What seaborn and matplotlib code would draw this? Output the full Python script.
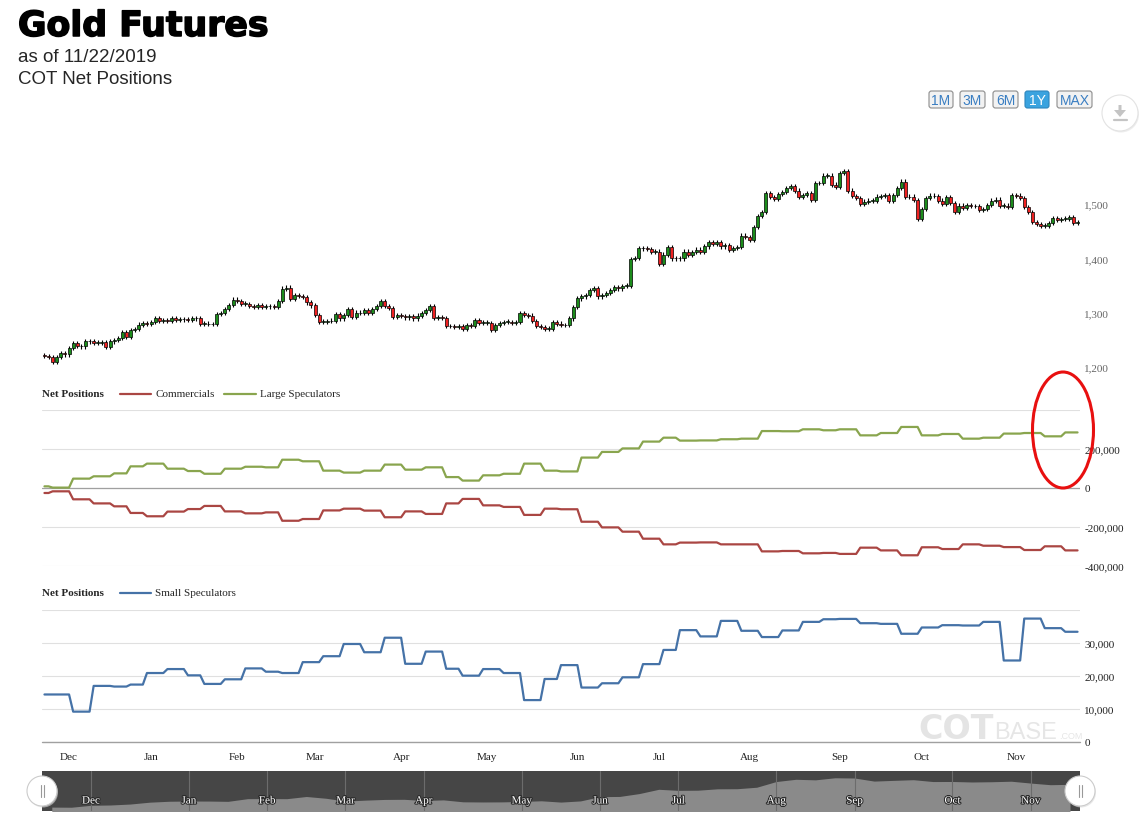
import numpy as np
import pandas as pd
import matplotlib
matplotlib.use("Agg")
import matplotlib.pyplot as plt
import matplotlib.patheffects as pe
from matplotlib.patches import Ellipse, Circle, FancyBboxPatch, Polygon
import seaborn as sns

# ---- values ----
# daily gold futures closes, 11/23/2018 .. 11/22/2019
gold_close = [
    1220.7, 1218.9, 1209.4, 1218.9, 1225.8, 1223.3, 1234.6, 1243.4, 1239.0, 1237.8,
    1247.2, 1247.2, 1244.7, 1244.7, 1245.9, 1237.1, 1247.2, 1249.7, 1253.5, 1264.2,
    1256.0, 1268.6, 1270.5, 1278.1, 1281.2, 1280.0, 1283.1, 1290.7, 1285.0, 1286.3,
    1285.0, 1289.4, 1286.3, 1287.5, 1287.5, 1286.3, 1289.4, 1290.7, 1280.0, 1280.0,
    1278.7, 1278.7, 1297.6, 1298.9, 1306.4, 1314.6, 1324.1, 1320.9, 1316.5, 1316.5,
    1312.7, 1310.2, 1314.6, 1310.2, 1311.5, 1311.5, 1310.2, 1320.9, 1344.2, 1346.1,
    1325.3, 1331.6, 1330.4, 1329.1, 1319.0, 1313.4, 1295.7, 1283.1, 1283.1, 1284.4,
    1284.4, 1297.0, 1289.4, 1295.7, 1306.4, 1292.6, 1300.1, 1298.9, 1305.2, 1300.1,
    1306.4, 1312.7, 1320.9, 1312.7, 1308.3, 1292.6, 1295.7, 1293.8, 1291.3, 1293.8,
    1289.4, 1294.5, 1298.9, 1305.2, 1311.5, 1290.7, 1292.6, 1290.7, 1274.9, 1274.9,
    1273.7, 1274.9, 1270.5, 1276.8, 1275.6, 1286.3, 1281.2, 1281.2, 1281.2, 1268.6,
    1276.8, 1281.2, 1283.1, 1283.1, 1281.9, 1283.1, 1298.9, 1295.7, 1294.5, 1285.0,
    1274.9, 1273.7, 1270.5, 1270.5, 1283.1, 1280.0, 1276.8, 1276.8, 1289.4, 1310.2,
    1326.2, 1329.9, 1332.4, 1342.2, 1344.7, 1329.9, 1332.4, 1336.1, 1342.2, 1346.5,
    1344.7, 1349.6, 1349.6, 1398.7, 1400.5, 1418.3, 1418.3, 1417.1, 1412.2, 1412.2,
    1389.5, 1406.7, 1420.2, 1399.9, 1399.9, 1399.9, 1412.2, 1406.1, 1411.0, 1415.9,
    1411.0, 1422.0, 1429.4, 1426.3, 1429.4, 1422.0, 1424.5, 1415.3, 1418.4, 1420.2,
    1441.7, 1438.6, 1433.7, 1457.0, 1477.3, 1484.7, 1519.7, 1512.3, 1509.2, 1518.4,
    1521.5, 1528.9, 1532.6, 1524.6, 1513.5, 1516.6, 1519.7, 1508.0, 1538.1, 1538.7,
    1552.2, 1552.2, 1535.6, 1530.7, 1557.1, 1560.2, 1524.6, 1514.1, 1510.4, 1500.0,
    1504.3, 1506.2, 1506.2, 1513.5, 1514.1, 1516.6, 1506.2, 1516.6, 1529.5, 1541.2,
    1512.3, 1513.5, 1507.4,
    1472.3, 1490.7, 1510.4, 1515.3, 1514.1, 1506.1, 1500.0, 1512.2, 1501.8, 1485.8,
    1496.9, 1492.0, 1498.1, 1495.7, 1495.7, 1489.5, 1490.7, 1498.1, 1506.1, 1507.9,
    1496.9, 1496.9, 1495.0, 1516.5, 1515.3, 1511.0, 1493.8, 1484.6, 1466.2, 1463.1,
    1460.0, 1460.0, 1465.0, 1473.5, 1471.1, 1472.3, 1472.3, 1475.4, 1465.0, 1465.0,
]
gold_first_open = 1222.0

# weekly COT net positions, report Tuesdays 11/20/2018 .. 11/19/2019
commercials = [
    -25600, -17000, -58000, -79000, -94000, -128000, -145000, -121000, -108000, -92000,
    -120000, -130000, -125000, -168000, -159000, -115000, -106000, -116000, -150000,
    -120000, -133000, -79000, -56000, -89000, -97000, -138000, -106000, -109000, -173000,
    -202000, -224000, -260000, -289000, -280000, -279000, -289000, -289000,
    -325000, -323000, -335000, -333000, -338000, -306000, -320000, -345000, -304000,
    -313000, -289000, -296000, -303000, -318000, -299000, -320000,
]
large_specs = [
    8500, 2000, 48000, 60000, 75000, 111000, 125000, 99000, 87000, 73000,
    99000, 109000, 106000, 145000, 137000, 89000, 79000, 89000, 120000,
    94000, 106000, 56000, 38000, 65000, 73000, 125000, 89000, 85000, 156000,
    185000, 203000, 238000, 258000, 243000, 244000, 250000, 253000,
    292000, 291000, 301000, 296000, 301000, 270000, 282000, 313000, 270000,
    277000, 253000, 258000, 279000, 282000, 265000, 285000,
]
small_specs = [
    14400, 14400, 9200, 17000, 16800, 17400, 20900, 22100, 20200, 17600,
    19000, 22300, 21300, 20900, 24200, 26000, 29700, 27200, 31600,
    23700, 27400, 22200, 20100, 22100, 20900, 12700, 19100, 23300, 16500,
    17800, 19600, 23600, 27900, 33900, 32000, 36700, 33700,
    31800, 33800, 36400, 37200, 37300, 36000, 35800, 32800, 34700,
    35400, 35300, 36400, 24700, 37400, 34500, 33400,
]

price_ticks = [1200, 1300, 1400, 1500]
net_ticks = [-400000, -200000, 0, 200000, 400000]
small_ticks = [0, 10000, 20000, 30000, 40000]
holidays = ["2018-12-25", "2019-01-01", "2019-01-21", "2019-02-18",
            "2019-04-19", "2019-05-27", "2019-07-04", "2019-09-02"]

RED, GREEN, BLUE = "#AA4643", "#89A54E", "#4572A7"
CANDLE_UP, CANDLE_DN = "#1c8c1c", "#ee2222"

sns.set_theme(style="white")
plt.rcParams["font.family"] = ["Liberation Serif", "DejaVu Serif"]

# trading calendar -> ordinal x axis
hol = pd.to_datetime(holidays)
days = pd.bdate_range("2018-11-23", "2019-11-22")
days = days[~days.isin(hol)]
N = len(days)
x = np.arange(N)

rep = pd.date_range("2018-11-20", periods=len(commercials), freq="W-TUE")
rep = pd.DatetimeIndex([d - pd.Timedelta(days=1) if d in hol else d for d in rep])
cot = pd.DataFrame({"Commercials": commercials,
                    "Large Speculators": large_specs,
                    "Small Speculators": small_specs}, index=rep)
daily = cot.reindex(days, method="ffill")
daily["idx"] = x
long = daily.melt(id_vars="idx", var_name="series", value_name="net")

W, H = 1143, 820
fig = plt.figure(figsize=(W / 100, H / 100), dpi=100)
fig.patch.set_facecolor("white")


def rect(x0, y0, x1, y1):
    return [x0 / W, 1 - y1 / H, (x1 - x0) / W, (y1 - y0) / H]


ax1 = fig.add_axes(rect(42, 150, 1080, 380))
ax2 = fig.add_axes(rect(42, 411, 1080, 567))
ax3 = fig.add_axes(rect(42, 611, 1080, 743))
axn = fig.add_axes(rect(42, 772, 1080, 812))

for ax in (ax1, ax2, ax3, axn):
    for s in ax.spines.values():
        s.set_visible(False)

# ---- candles ----
close = np.array(gold_close)
opn = np.r_[gold_first_open, close[:-1]]
up = close >= opn
lo_body = np.minimum(opn, close)
h_body = np.maximum(np.abs(close - opn), 0.9)
ax1.vlines(x, lo_body - 4, lo_body + h_body + 4, color="black", lw=0.8, zorder=1)
ax1.bar(x, h_body, bottom=lo_body, width=0.74,
        color=np.where(up, CANDLE_UP, CANDLE_DN), edgecolor="black",
        linewidth=0.5, zorder=2)
ax1.set_ylim(1178, 1601)
ax1.set_yticks(price_ticks)
ax1.set_yticklabels([f"{v:,}" for v in price_ticks])
ax1.set_xticks([])

# ---- net positions ----
sns.lineplot(data=long[long.series != "Small Speculators"], x="idx", y="net",
             hue="series", hue_order=["Commercials", "Large Speculators"],
             palette={"Commercials": RED, "Large Speculators": GREEN},
             estimator=None, linewidth=1.6, legend=False, ax=ax2, zorder=3)
ax2.set_ylim(-400000, 400000)
ax2.set_yticks(net_ticks)
ax2.set_yticklabels([f"{v:,}" for v in net_ticks[:-1]] + [""])
ax2.grid(axis="y", color="#e0e0e0", lw=0.8)
ax2.axhline(0, color="#a0a0a0", lw=0.9, zorder=2)
ax2.set_xticks([])

sns.lineplot(data=long[long.series == "Small Speculators"], x="idx", y="net",
             color=BLUE, estimator=None, linewidth=1.6, legend=False, ax=ax3, zorder=3)
ax3.set_ylim(0, 40000)
ax3.set_yticks(small_ticks)
ax3.set_yticklabels([f"{v:,}" for v in small_ticks[:-1]] + [""])
ax3.grid(axis="y", color="#e0e0e0", lw=0.8)
ax3.axhline(0, color="#a0a0a0", lw=1.0, zorder=2, clip_on=False)

# month labels at first trading day of each month
first_idx = pd.Series(x, index=days).groupby(days.to_period("M")).first()
first_idx = first_idx[[days[i].day <= 7 for i in first_idx.values]]
ax3.set_xticks(first_idx.values)
ax3.set_xticklabels([days[i].strftime("%b") for i in first_idx.values])
ax3.tick_params(axis="x", length=0, pad=7, labelsize=8, labelcolor="#222222")

for ax, col in ((ax1, "#666666"), (ax2, "#222222"), (ax3, "#222222")):
    ax.set_xlim(-0.6, N - 0.4)
    ax.set_xlabel("")
    ax.set_ylabel("")
    ax.yaxis.tick_right()
    ax.tick_params(axis="y", length=0, pad=3, labelsize=8, labelcolor=col)

# ---- navigator ----
axn.set_facecolor("#464646")
wk = pd.Series(close, index=days).resample("W-MON", label="left", closed="left").mean()
axn.fill_between(wk.index, wk.values, 1100, color="#8a8a8a", lw=0)
axn.set_xlim(pd.Timestamp("2018-11-15 12:00"), pd.Timestamp("2019-11-21 14:00"))
axn.set_ylim(1178, 1616)
axn.set_xticks([])
axn.set_yticks([])
nav_ticks = pd.date_range("2018-12-01", "2019-11-30", freq="WOM-1MON")
for t in nav_ticks:
    axn.axvline(t, color="#6c6c6c", lw=0.8)
    axn.text(t, 0.25, t.strftime("%b"), transform=axn.get_xaxis_transform(),
             ha="center", va="center", fontsize=8, color="white",
             path_effects=[pe.withStroke(linewidth=1.5, foreground="#2a2a2a")])

# ---- overlay: titles, legends, buttons, marks ----
ov = fig.add_axes([0, 0, 1, 1], zorder=10)
ov.set_xlim(0, W)
ov.set_ylim(H, 0)
ov.axis("off")
ov.patch.set_alpha(0)

ov.text(18, 37, "Gold Futures", fontsize=25, fontweight="bold",
        family="DejaVu Sans", color="black", va="baseline",
        path_effects=[pe.withStroke(linewidth=1.1, foreground="black")])
ov.text(18, 62, "as of 11/22/2019", fontsize=13.5, family="Liberation Sans", va="baseline")
ov.text(18, 84, "COT Net Positions", fontsize=13.5, family="Liberation Sans", va="baseline")

ov.text(42, 395, "Net Positions", fontsize=8, fontweight="bold", va="center")
ov.plot([120, 151], [395, 395], color=RED, lw=1.6)
ov.text(155, 395, "Commercials", fontsize=8, va="center")
ov.plot([224, 256], [395, 395], color=GREEN, lw=1.6)
ov.text(260, 395, "Large Speculators", fontsize=8, va="center")

ov.text(42, 594, "Net Positions", fontsize=8, fontweight="bold", va="center")
ov.plot([120, 151], [594, 594], color=BLUE, lw=1.6)
ov.text(155, 594, "Small Speculators", fontsize=8, va="center")

buttons = [("1M", 929, 953), ("3M", 960, 985), ("6M", 993, 1018),
           ("1Y", 1025, 1049), ("MAX", 1057, 1092)]
for lab, x0, x1 in buttons:
    active = lab == "1Y"
    ov.add_patch(FancyBboxPatch((x0, 92), x1 - x0, 17,
                                boxstyle="round,pad=0,rounding_size=2.5",
                                fc="#3aa3df" if active else "#f2f2f2",
                                ec="#2d86bd" if active else "#8c8c8c", lw=0.8))
    ov.text((x0 + x1) / 2, 101, lab, ha="center", va="center", fontsize=10,
            family="Liberation Sans", color="white" if active else "#3a7ec2")

# download button
ov.add_patch(Circle((1121, 115.5), 18, fc="#e6e6e6", ec="none", alpha=0.7))
ov.add_patch(Circle((1120, 114), 18, fc="white", ec="#e3e3e3", lw=0.8))
ov.add_patch(Polygon([(1118.5, 106), (1121.5, 106), (1121.5, 111), (1126, 111),
                      (1120, 118), (1114, 111), (1118.5, 111)], closed=True,
                     fc="#c4c4c4", ec="none"))
ov.plot([1113.5, 1126.5], [121, 121], color="#c4c4c4", lw=1.6)

# red highlight ellipse
ov.add_patch(Ellipse((1063, 431), 61, 116, fc="none", ec="#e81010", lw=2.2))

# watermark
ov.text(918, 739, "COT", fontsize=24, fontweight="bold", family="DejaVu Sans",
        color="#e4e4e4", va="baseline", zorder=0)
ov.text(994, 739, "BASE", fontsize=17, family="Liberation Sans",
        color="#e6e6e6", va="baseline", zorder=0)
ov.text(1059, 739, ".COM", fontsize=6.5, family="Liberation Sans",
        color="#e6e6e6", va="baseline", zorder=0)

# navigator handles
for hx in (42, 1080):
    ov.add_patch(Circle((hx + 1, 793.5), 15, fc="#d9d9d9", ec="none", alpha=0.6))
    ov.add_patch(Circle((hx, 792), 15, fc="white", ec="#cccccc", lw=0.8))
    ov.plot([hx - 1.5, hx - 1.5], [786, 798], color="#999999", lw=0.8)
    ov.plot([hx + 1.5, hx + 1.5], [786, 798], color="#999999", lw=0.8)

fig.savefig("out.png", dpi=100)
